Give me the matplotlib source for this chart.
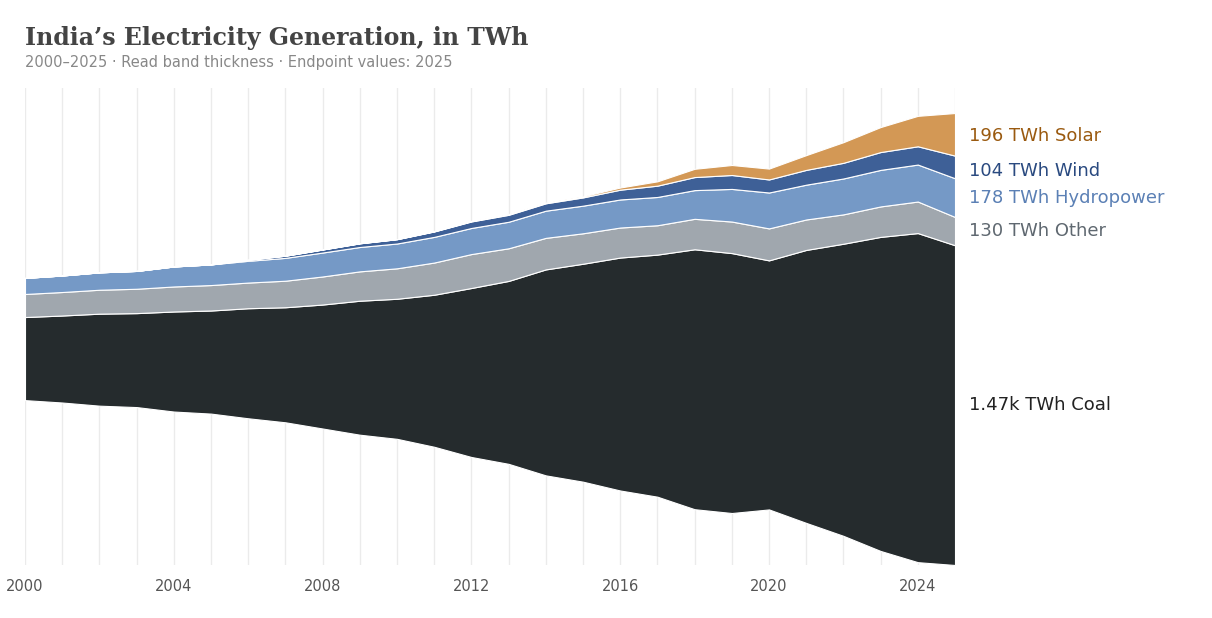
import matplotlib
matplotlib.use("Agg")
import matplotlib.pyplot as plt
import numpy as np

years = list(range(2000, 2026))
coal = [382,400,423,432,460,474,506,529,570,616,644,699,777,841,947,1002,1071,1113,1195,1195,1145,1255,1343,1444,1513,1470]
other = [106,108,110,112,115,117,118,122,129,135,140,148,156,150,145,140,138,135,140,145,147,140,135,140,145,130]
hydro = [74,76,80,82,92,95,100,105,110,112,114,118,120,122,125,127,129,130,132,150,165,160,165,168,170,178]
wind = [0,0,0,0,0,0,5,10,14,17,20,25,30,32,34,38,45,52,60,64,60,68,72,82,84,104]
solar = [0,0,0,0,0,0,0,0,0,0,0,1,2,3,3,5,10,20,38,46,50,68,95,115,140,196]
names = ["Coal","Other","Hydropower","Wind","Solar"]
colors = ["#252b2d","#a0a7ae","#7599c6","#3e6097","#d39855"]
text_colors = ["#222222","#5f6870","#5b80b5","#2a4a80","#9a5a10"]
tick_years = [2000,2004,2008,2012,2016,2020,2024]

fig = plt.figure(figsize=(12.12,6.18), dpi=100)
ax = fig.add_axes([25/1212, 1-565/618, 930/1212, 477/618])
series = [coal, other, hydro, wind, solar]
ax.stackplot(years, *series, baseline="sym", colors=colors, edgecolor="white", linewidth=0.8)
ax.set_xlim(2000, 2025)
ax.set_ylim(-1039, 1154)
for y in years:
    ax.axvline(y, color="#ebebeb", lw=1, zorder=0)
for s in ax.spines.values():
    s.set_visible(False)
ax.set_yticks([])
ax.set_xticks(tick_years)
ax.set_xticklabels([str(t) for t in tick_years], color="#555555", fontsize=10.5)
ax.tick_params(axis="x", length=0, pad=10)

tot = sum(s[-1] for s in series)
base = -tot/2
adj = [0, 0, 0, 3, 1]
for i, s in enumerate(series):
    mid = base + s[-1]/2
    base += s[-1]
    v = s[-1]
    lab = f"{v/1000:.2f}k" if v >= 1000 else str(v)
    ax.annotate(f"{lab} TWh {names[i]}", (2025, mid), xytext=(10, -adj[i]*1.0),
                textcoords="offset points", va="center", ha="left",
                fontsize=13, color=text_colors[i], annotation_clip=False)

fig.text(25/1212, 1-38/618, "India’s Electricity Generation, in TWh", family="DejaVu Serif",
         fontweight="bold", fontsize=17, color="#444444", va="center")
fig.text(25/1212, 1-63/618, "2000–2025 · Read band thickness · Endpoint values: 2025",
         fontsize=10.5, color="#888888", va="center")
fig.savefig("out.png", dpi=100)
